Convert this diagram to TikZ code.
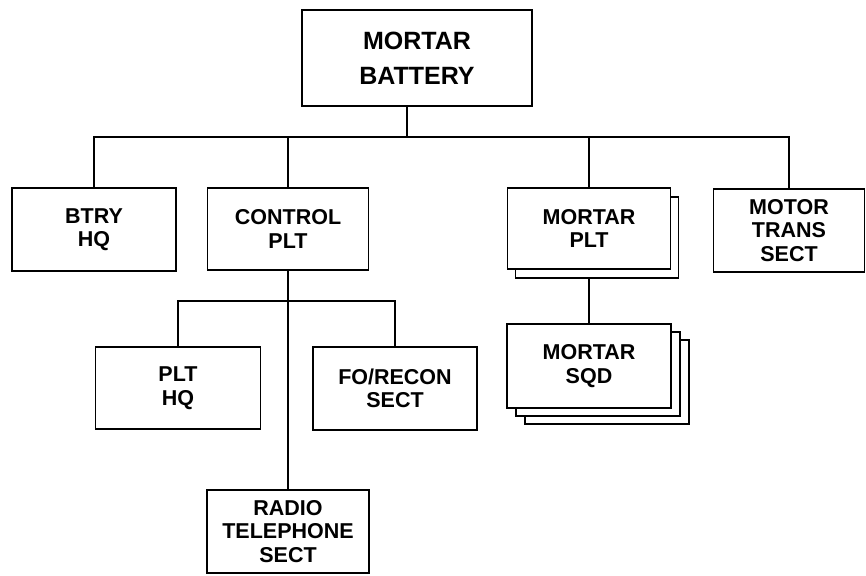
\documentclass[tikz,border=0pt]{standalone}
\usepackage{fontspec}
\setmainfont{Liberation Sans}
\usetikzlibrary{shadows}
\tikzset{
    unit/.style={rectangle, draw, fill=white, line width=1.7pt, align=center,
                 inner sep=0pt, font=\fontsize{21.5}{23.5}\selectfont\bfseries},
    topunit/.style={unit, font=\fontsize{25}{35}\selectfont\bfseries},
    platoon/.style={unit, copy shadow={shadow xshift=8pt, shadow yshift=-9pt}},
    squads/.style={unit, double copy shadow={shadow xshift=9pt, shadow yshift=-8pt}},
    link/.style={line width=1.7pt},
}

\begin{document}
\begin{tikzpicture}[x=1pt, y=-1pt]
    \useasboundingbox (0,0) rectangle (866,575);

    % Battery
    \node[topunit, minimum width=230, minimum height=96] at (417,58) (battery) {MORTAR\\BATTERY};

    % First level
    \node[unit, minimum width=164, minimum height=83] at (94,229.5) (btryhq) {BTRY\\HQ};
    \node[unit, minimum width=161, minimum height=82] at (288,229) (ctrlplt) {CONTROL\\PLT};
    \node[platoon, minimum width=163, minimum height=81] at (589,228.5) (mortarplt) {MORTAR\\PLT};
    \node[unit, minimum width=151, minimum height=83] at (789,230.5) (motortrans) {MOTOR\\TRANS\\SECT};

    % Control platoon sections
    \node[unit, minimum width=165, minimum height=82] at (178,388) (plthq) {PLT\\HQ};
    \node[unit, minimum width=164, minimum height=83] at (395,388.5) (forecon) {FO/RECON\\SECT};
    \node[unit, minimum width=162, minimum height=83] at (288,531.5) (radio) {RADIO\\TELEPHONE\\SECT};

    % Mortar squads
    \node[squads, minimum width=164, minimum height=84] at (589,366) (mortarsqd) {MORTAR\\SQD};

    % Battery connections
    \coordinate (bus) at (407,137);
    \draw[link] (battery.south -| bus) -- (bus);
    \draw[link] (btryhq.north) |- (bus) -| (motortrans.north);
    \foreach \u in {ctrlplt,mortarplt}
        \draw[link] (\u.north) -- (\u.north |- bus);

    % Control platoon connections
    \coordinate (ctrlbus) at (288,301);
    \draw[link] (ctrlplt.south) -- (radio.north);
    \draw[link] (plthq.north) |- (ctrlbus) -| (forecon.north);

    % Mortar platoon connection
    \draw[link] ([yshift=-9pt]mortarplt.south) -- (mortarsqd.north);

\end{tikzpicture}
\end{document}
